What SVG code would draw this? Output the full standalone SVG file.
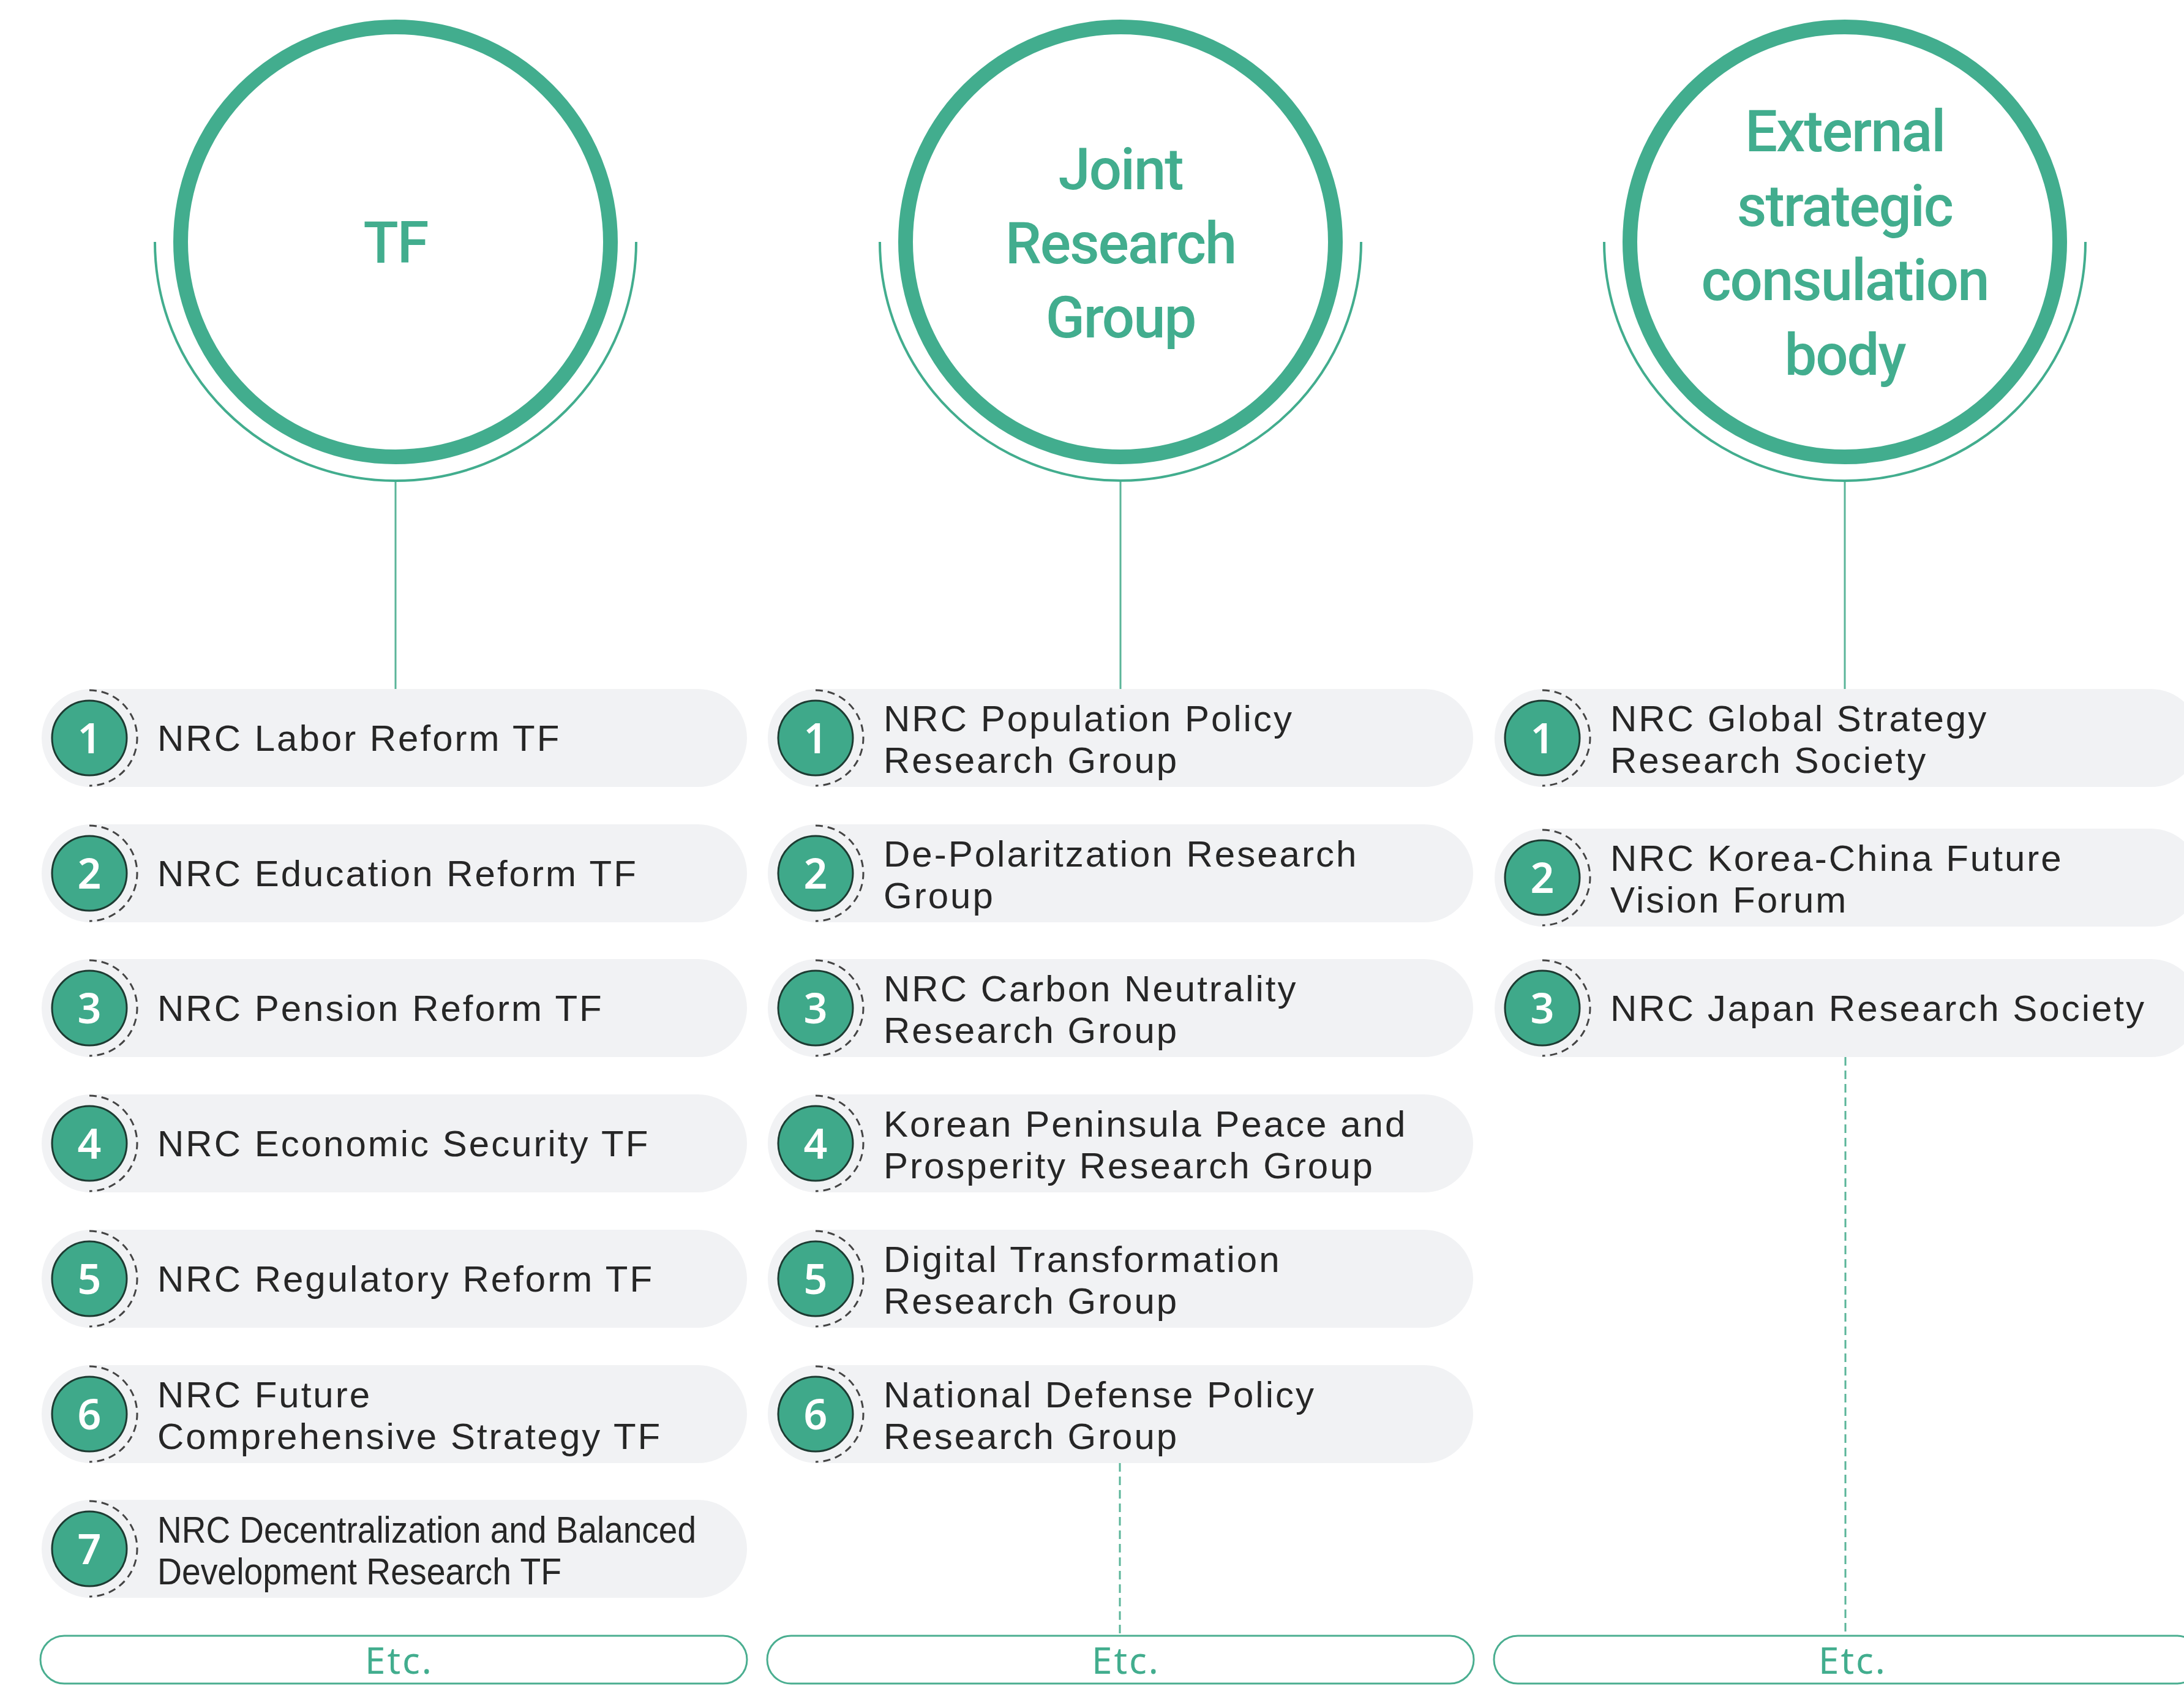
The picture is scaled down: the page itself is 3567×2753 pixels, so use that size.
<svg xmlns="http://www.w3.org/2000/svg" xmlns:xlink="http://www.w3.org/1999/xlink" width="3567" height="2753" viewBox="0 0 3567 2753">
<style>
.pill{fill:#f1f2f4}
.lbl{font-family:"Liberation Sans",Arial,sans-serif;font-size:60px;fill:#262626;letter-spacing:3px}
.cond{font-family:"Liberation Sans",Arial,sans-serif;font-size:61px;fill:#262626}
.num{font-family:"Noto Sans","Open Sans",sans-serif;font-size:68px;fill:#ffffff;font-weight:600;text-anchor:middle}
.badge{fill:#3fa98a;stroke:#1d3b32;stroke-width:3}
.ring{fill:none;stroke:#444444;stroke-width:3;stroke-dasharray:12 8}
.title{font-family:Roboto,"Noto Sans",sans-serif;font-weight:500;font-size:94px;fill:#42ad8e;text-anchor:middle;letter-spacing:-2px}
.big{fill:none;stroke:#42ad8e;stroke-width:24}
.arc{fill:none;stroke:#42ad8e;stroke-width:4}
.solid{stroke:#5bb599;stroke-width:3;fill:none}
.dash{stroke:#5bb599;stroke-width:3;stroke-dasharray:14 8;fill:none}
.etc{fill:#ffffff;stroke:#4aae90;stroke-width:3}
.etct{font-family:"Noto Sans","Open Sans",sans-serif;font-size:60px;fill:#42ad8e;text-anchor:middle;letter-spacing:3px}
</style>
<defs>
<g id="bd">
<circle class="badge" cx="0" cy="0" r="61"/>
<path class="ring" d="M 0 -78 A 78 78 0 0 1 0 78"/>
</g>
</defs>
<rect width="3567" height="2753" fill="#ffffff"/>

<g id="connectors">
<line class="solid" x1="646" y1="785" x2="646" y2="1125"/>
<line class="solid" x1="1830" y1="785" x2="1830" y2="1125"/>
<line class="solid" x1="3013" y1="785" x2="3013" y2="1125"/>
<line class="dash" x1="1829" y1="2389" x2="1829" y2="2671"/>
<line class="dash" x1="3014" y1="1726" x2="3014" y2="2671"/>
</g>

<g id="head-tf">
<circle class="big" cx="646" cy="395" r="351"/>
<path class="arc" d="M 253 395 A 393 390 0 0 0 1039 395"/>
<text class="title" x="646" y="429">TF</text>
</g>
<g id="head-jrg">
<circle class="big" cx="1830" cy="395" r="351"/>
<path class="arc" d="M 1437 395 A 393 390 0 0 0 2223 395"/>
<text class="title" x="1830" y="309">Joint<tspan x="1830" dy="121">Research</tspan><tspan x="1830" dy="121">Group</tspan></text>
</g>
<g id="head-ext">
<circle class="big" cx="3013" cy="395" r="351"/>
<path class="arc" d="M 2620 395 A 393 390 0 0 0 3406 395"/>
<text class="title" x="3013" y="247">External<tspan x="3013" dy="122">strategic</tspan><tspan x="3013" dy="121">consulation</tspan><tspan x="3013" dy="122">body</tspan></text>
</g>

<!-- Column 1 -->
<g id="tf1"><rect class="pill" x="68" y="1125" width="1152" height="160" rx="80"/><use xlink:href="#bd" x="146" y="1205"/><text class="num" x="146" y="1230">1</text><text class="lbl" x="257" y="1226">NRC Labor Reform TF</text></g>
<g id="tf2"><rect class="pill" x="68" y="1346" width="1152" height="160" rx="80"/><use xlink:href="#bd" x="146" y="1426"/><text class="num" x="146" y="1451">2</text><text class="lbl" x="257" y="1447">NRC Education Reform TF</text></g>
<g id="tf3"><rect class="pill" x="68" y="1566" width="1152" height="160" rx="80"/><use xlink:href="#bd" x="146" y="1646"/><text class="num" x="146" y="1671">3</text><text class="lbl" x="257" y="1667">NRC Pension Reform TF</text></g>
<g id="tf4"><rect class="pill" x="68" y="1787" width="1152" height="160" rx="80"/><use xlink:href="#bd" x="146" y="1867"/><text class="num" x="146" y="1892">4</text><text class="lbl" x="257" y="1888">NRC Economic Security TF</text></g>
<g id="tf5"><rect class="pill" x="68" y="2008" width="1152" height="160" rx="80"/><use xlink:href="#bd" x="146" y="2088"/><text class="num" x="146" y="2113">5</text><text class="lbl" x="257" y="2109">NRC Regulatory Reform TF</text></g>
<g id="tf6"><rect class="pill" x="68" y="2229" width="1152" height="160" rx="80"/><use xlink:href="#bd" x="146" y="2309"/><text class="num" x="146" y="2334">6</text><text class="lbl" x="257" y="2298">NRC Future<tspan x="257" dy="68">Comprehensive Strategy TF</tspan></text></g>
<g id="tf7"><rect class="pill" x="68" y="2449" width="1152" height="160" rx="80"/><use xlink:href="#bd" x="146" y="2529"/><text class="num" x="146" y="2554">7</text><text class="cond" x="257" y="2519"><tspan textLength="880" lengthAdjust="spacingAndGlyphs">NRC Decentralization and Balanced</tspan><tspan x="257" dy="68" textLength="660" lengthAdjust="spacingAndGlyphs">Development Research TF</tspan></text></g>

<!-- Column 2 -->
<g id="jr1"><rect class="pill" x="1254" y="1125" width="1152" height="160" rx="80"/><use xlink:href="#bd" x="1332" y="1205"/><text class="num" x="1332" y="1230">1</text><text class="lbl" x="1443" y="1194">NRC Population Policy<tspan x="1443" dy="68">Research Group</tspan></text></g>
<g id="jr2"><rect class="pill" x="1254" y="1346" width="1152" height="160" rx="80"/><use xlink:href="#bd" x="1332" y="1426"/><text class="num" x="1332" y="1451">2</text><text class="lbl" x="1443" y="1415">De-Polaritzation Research<tspan x="1443" dy="68">Group</tspan></text></g>
<g id="jr3"><rect class="pill" x="1254" y="1566" width="1152" height="160" rx="80"/><use xlink:href="#bd" x="1332" y="1646"/><text class="num" x="1332" y="1671">3</text><text class="lbl" x="1443" y="1635">NRC Carbon Neutrality<tspan x="1443" dy="68">Research Group</tspan></text></g>
<g id="jr4"><rect class="pill" x="1254" y="1787" width="1152" height="160" rx="80"/><use xlink:href="#bd" x="1332" y="1867"/><text class="num" x="1332" y="1892">4</text><text class="lbl" x="1443" y="1856">Korean Peninsula Peace and<tspan x="1443" dy="68">Prosperity Research Group</tspan></text></g>
<g id="jr5"><rect class="pill" x="1254" y="2008" width="1152" height="160" rx="80"/><use xlink:href="#bd" x="1332" y="2088"/><text class="num" x="1332" y="2113">5</text><text class="lbl" x="1443" y="2077">Digital Transformation<tspan x="1443" dy="68">Research Group</tspan></text></g>
<g id="jr6"><rect class="pill" x="1254" y="2229" width="1152" height="160" rx="80"/><use xlink:href="#bd" x="1332" y="2309"/><text class="num" x="1332" y="2334">6</text><text class="lbl" x="1443" y="2298">National Defense Policy<tspan x="1443" dy="68">Research Group</tspan></text></g>

<!-- Column 3 -->
<g id="ex1"><rect class="pill" x="2441" y="1125" width="1152" height="160" rx="80"/><use xlink:href="#bd" x="2519" y="1205"/><text class="num" x="2519" y="1230">1</text><text class="lbl" x="2630" y="1194">NRC Global Strategy<tspan x="2630" dy="68">Research Society</tspan></text></g>
<g id="ex2"><rect class="pill" x="2441" y="1353" width="1152" height="160" rx="80"/><use xlink:href="#bd" x="2519" y="1433"/><text class="num" x="2519" y="1458">2</text><text class="lbl" x="2630" y="1422">NRC Korea-China Future<tspan x="2630" dy="68">Vision Forum</tspan></text></g>
<g id="ex3"><rect class="pill" x="2441" y="1566" width="1152" height="160" rx="80"/><use xlink:href="#bd" x="2519" y="1646"/><text class="num" x="2519" y="1671">3</text><text class="lbl" x="2630" y="1667">NRC Japan Research Society</text></g>

<!-- Etc. -->
<g id="etc1"><rect class="etc" x="66" y="2671" width="1154" height="78" rx="39"/><text class="etct" x="652" y="2733">Etc.</text></g>
<g id="etc2"><rect class="etc" x="1253" y="2671" width="1154" height="78" rx="39"/><text class="etct" x="1839" y="2733">Etc.</text></g>
<g id="etc3"><rect class="etc" x="2440" y="2671" width="1154" height="78" rx="39"/><text class="etct" x="3026" y="2733">Etc.</text></g>
</svg>
